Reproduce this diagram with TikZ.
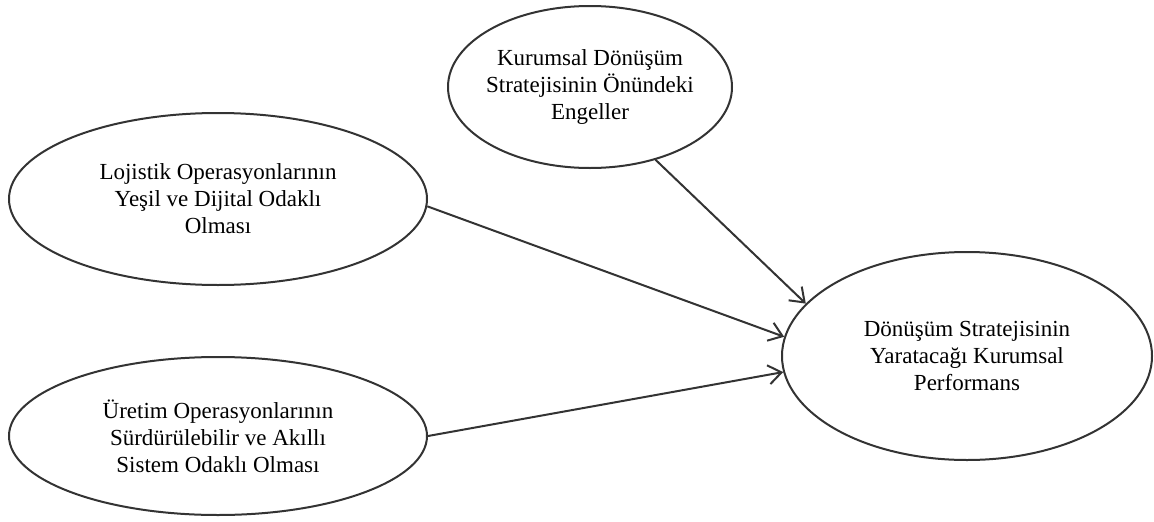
\documentclass[tikz,border=0pt]{standalone}
\usepackage{fontspec}
\setmainfont{Liberation Serif}
\usetikzlibrary{shapes.geometric,arrows.meta}

\tikzset{every picture/.style={line width=2pt}}
\tikzset{oval/.style={draw=black!80,ellipse,inner sep=-40pt,align=center,font=\fontsize{23}{27}\selectfont},
         okline/.style={draw=black!80,-{Straight Barb[length=13pt,width=19pt]}}}

\begin{document}
\begin{tikzpicture}[x=1pt,y=1pt,yscale=-1,xscale=1]
\useasboundingbox (0,0) rectangle (1154,522);

% Ellipse
\node (engeller) [oval,minimum width=284,minimum height=162] at (590,87) {Kurumsal Dönüşüm\\Stratejisinin Önündeki\\Engeller};
% Ellipse
\node (lojistik) [oval,minimum width=418,minimum height=172] at (218,199) {Lojistik Operasyonlarının\\Yeşil ve Dijital Odaklı\\Olması};
% Ellipse
\node (uretim) [oval,minimum width=418,minimum height=158] at (218,436) {Üretim Operasyonlarının\\Sürdürülebilir ve Akıllı\\Sistem Odaklı Olması};
% Ellipse
\node (performans) [oval,minimum width=370,minimum height=208] at (967,356) {Dönüşüm Stratejisinin\\Yaratacağı Kurumsal\\Performans};

%Straight Lines
\draw [okline] (engeller.-48) -- (performans.162) ;
%Straight Lines
\draw [okline] (lojistik.-2) -- (performans.174) ;
%Straight Lines
\draw [okline] (uretim.0) -- (performans.-175) ;

\end{tikzpicture}
\end{document}
